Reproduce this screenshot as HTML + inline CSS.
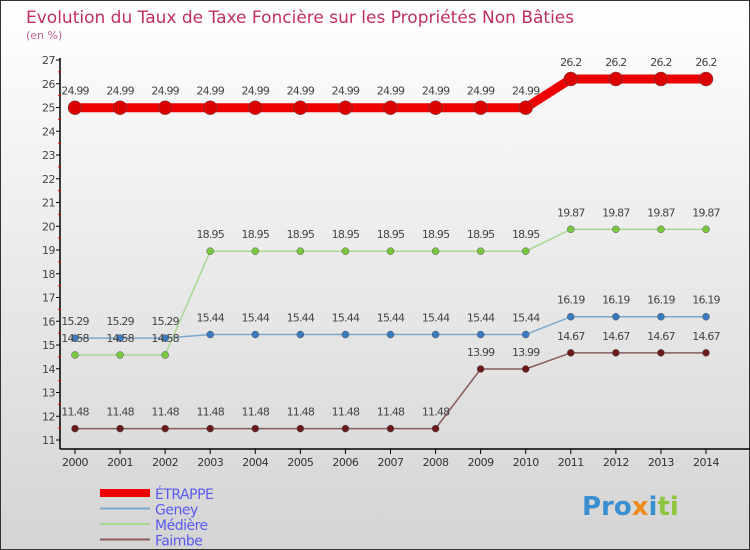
<!DOCTYPE html>
<html><head><meta charset="utf-8"><style>
html,body{margin:0;padding:0}
body{width:750px;height:550px;overflow:hidden;font-family:"DejaVu Sans","Liberation Sans",sans-serif}
svg{display:block}
</style></head><body>
<svg width="750" height="550" xmlns="http://www.w3.org/2000/svg">
<defs><linearGradient id="bg" x1="0" y1="0" x2="0" y2="1"><stop offset="0" stop-color="#ffffff"/><stop offset="1" stop-color="#d4d4d4"/></linearGradient></defs>
<rect x="0.5" y="0.5" width="749" height="549" fill="url(#bg)" stroke="#333"/>
<text x="26" y="23" font-size="17" fill="#c0305e">Evolution du Taux de Taxe Foncière sur les Propriétés Non Bâties</text>
<text x="26" y="39" font-size="11" fill="#c0608e">(en %)</text>
<g id="axes"></g>
<g id="series"></g>
<g id="legend"></g>
<text x="582" y="515" font-size="26" font-weight="bold" fill="#3a8fd0">Pro<tspan fill="#f08a1a">x</tspan><tspan fill="#3a8fd0">i</tspan><tspan fill="#8cc63f">ti</tspan></text>
</svg>
<script>
const years=[2000,2001,2002,2003,2004,2005,2006,2007,2008,2009,2010,2011,2012,2013,2014];
const yTicks=[11,12,13,14,15,16,17,18,19,20,21,22,23,24,25,26,27];
const etrappe=[24.99,24.99,24.99,24.99,24.99,24.99,24.99,24.99,24.99,24.99,24.99,26.2,26.2,26.2,26.2];
const geney=[15.29,15.29,15.29,15.44,15.44,15.44,15.44,15.44,15.44,15.44,15.44,16.19,16.19,16.19,16.19];
const mediere=[14.58,14.58,14.58,18.95,18.95,18.95,18.95,18.95,18.95,18.95,18.95,19.87,19.87,19.87,19.87];
const faimbe=[11.48,11.48,11.48,11.48,11.48,11.48,11.48,11.48,11.48,13.99,13.99,14.67,14.67,14.67,14.67];
const names=["ÉTRAPPE","Geney","Médière","Faimbe"];
const NS="http://www.w3.org/2000/svg";
const X=i=>75+i*(706-75)/14;
const Y=v=>440-(v-11)*23.75;
function mk(tag,attrs,parent){const e=document.createElementNS(NS,tag);for(const k in attrs)e.setAttribute(k,attrs[k]);parent.appendChild(e);return e;}
const ax=document.getElementById('axes');
let a=mk('line',{x1:60,y1:58,x2:60,y2:449,stroke:'#000','stroke-width':1.5},ax);


a=mk('line',{x1:60,y1:449,x2:750,y2:449,stroke:'#000','stroke-width':1.5},ax);


yTicks.forEach(v=>{
 const y=Y(v);
 mk('line',{x1:56,y1:y,x2:60,y2:y,stroke:'#000'},ax);
 if(v<27) mk('line',{x1:58,y1:y-11.9,x2:61,y2:y-11.9,stroke:'#e00'},ax);
 const t=mk('text',{x:55,y:y+4,'font-size':11,fill:'#444','text-anchor':'end','letter-spacing':'-0.5'},ax);
 t.textContent=v;
 
 
});
years.forEach((yr,i)=>{
 const x=X(i);
 mk('line',{x1:x,y1:449,x2:x,y2:454,stroke:'#000'},ax);
 const t=mk('text',{x:x,y:466,'font-size':11,fill:'#333','text-anchor':'middle','letter-spacing':'-0.5'},ax);
 t.textContent=yr;
 
 
});
const sg=document.getElementById('series');
const specs=[
 {d:faimbe,c:'#8a5a5a',p:'#6a1a1a',w:1.5,r:3.5,n:'faimbe'},
 {d:geney,c:'#7aa8d0',p:'#3a7ac0',w:1.5,r:3.5,n:'geney'},
 {d:mediere,c:'#a8d890',p:'#7ac840',w:1.5,r:3.5,n:'mediere'},
 {d:etrappe,c:'#ee0000',p:'#dd0000',w:9,r:7,n:'etrappe'}];
specs.forEach(s=>{
 const pl=mk('polyline',{points:s.d.map((v,i)=>X(i)+','+Y(v)).join(' '),fill:'none',stroke:s.c,'stroke-width':s.w},sg);
 
 
 s.d.forEach((v,i)=>{
  const c=mk('circle',{cx:X(i),cy:Y(v),r:s.r,fill:s.p,stroke:'#555','stroke-width':0.5},sg);
  
  
  const t=mk('text',{x:X(i),y:Y(v)-13,'font-size':11,fill:'#444','text-anchor':'middle','letter-spacing':'-0.8'},sg);
  t.textContent=v;
  
  
 });
});
const lg=document.getElementById('legend');
const lc=['#ee0000','#7aa8d0','#a8d890','#8a5a5a'],lw=[8,2,2,2];
names.forEach((n,i)=>{
 const y=493+i*15.5;
 const l=mk('line',{x1:100,y1:y,x2:150,y2:y,stroke:lc[i],'stroke-width':lw[i]},lg);
 
 
 const t=mk('text',{x:155,y:y+6,'font-size':14,fill:'#5a5aee','letter-spacing':'-0.5'},lg);
 t.textContent=n;
 
 
});
</script>
</body></html>
